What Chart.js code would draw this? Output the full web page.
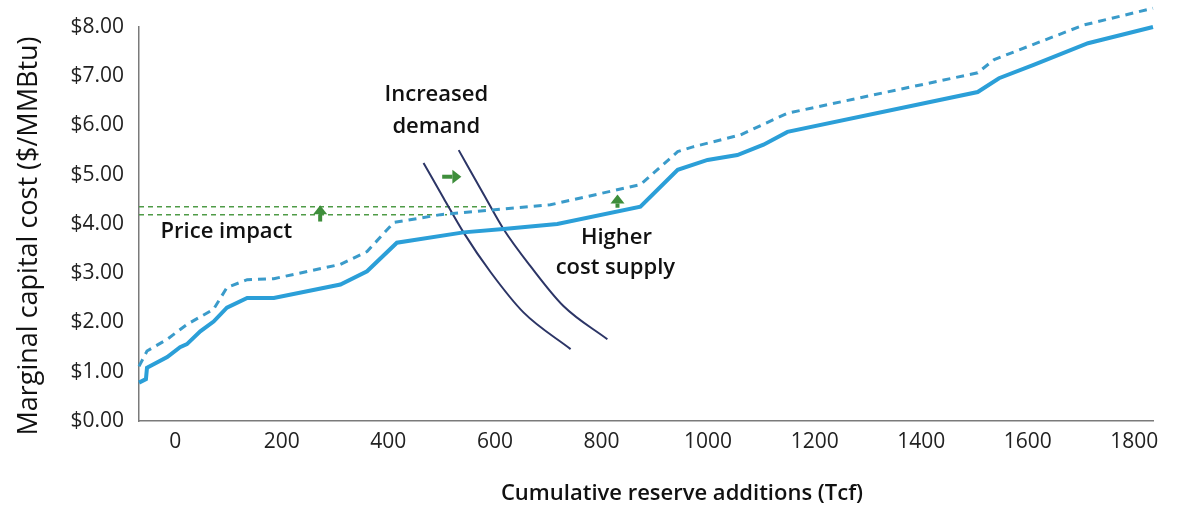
<!DOCTYPE html>
<html>
<head>
<meta charset="utf-8">
<title>Marginal capital cost</title>
<script src="https://cdn.jsdelivr.net/npm/chart.js@4.4.1/dist/chart.umd.min.js"></script>
<style>
    html, body { margin: 0; padding: 0; background: #fff; }
    #wrap { width: 1190px; height: 511px; position: relative; }
</style>
</head>
<body>
<div id="wrap"><canvas id="chart"></canvas></div>
<script>
// base supply curve (solid)
const supplyX = [-68, -55, -53, -15, 9, 22, 47, 72, 97, 135, 185, 310, 360, 416, 541, 616, 717, 873, 943, 999, 1055, 1104, 1149, 1506, 1546, 1611, 1713, 1835];
const supplyY = [0.78, 0.85, 1.08, 1.30, 1.50, 1.56, 1.82, 2.02, 2.30, 2.50, 2.50, 2.77, 3.04, 3.62, 3.83, 3.90, 4.00, 4.35, 5.10, 5.30, 5.40, 5.61, 5.87, 6.68, 6.96, 7.23, 7.67, 8.00];

// higher cost supply curve (dashed)
const costlyX = [-68, -53, -15, 22, 72, 97, 135, 185, 310, 360, 410, 498, 704, 873, 943, 973, 1061, 1149, 1506, 1537, 1705, 1835];
const costlyY = [1.11, 1.42, 1.66, 1.96, 2.27, 2.71, 2.87, 2.89, 3.18, 3.44, 4.03, 4.19, 4.39, 4.80, 5.47, 5.57, 5.81, 6.25, 7.07, 7.34, 8.04, 8.38];

// demand curves
const demandX = [466, 504, 541, 592, 654, 742];
const demandY = [5.24, 4.52, 3.83, 3.02, 2.20, 1.46];
const moreDemandX = [532, 579, 616, 667, 729, 811];
const moreDemandY = [5.50, 4.60, 3.90, 3.14, 2.33, 1.66];

// price levels (green dashed) and where they stop
const priceLevels = [4.19, 4.35];
const priceEnds = [510, 590];

// green arrows: from (x0, y0) to (x1, y1)
const arrowX0 = [272, 501, 830];
const arrowY0 = [4.05, 4.96, 4.33];
const arrowX1 = [272, 537, 830];
const arrowY1 = [4.38, 4.96, 4.60];

// text notes, anchored at data coordinates
const noteText = ['Price impact', 'Increased', 'demand', 'Higher', 'cost supply'];
const noteX = [96, 490, 490, 828, 826];
const noteY = [3.85, 6.62, 5.97, 3.72, 3.12];

const xTicks = [0, 200, 400, 600, 800, 1000, 1200, 1400, 1600, 1800];
const yTicks = [0, 1, 2, 3, 4, 5, 6, 7, 8];

const xTitle = 'Cumulative reserve additions (Tcf)';
const yTitle = 'Marginal capital cost ($/MMBtu)';

const FONT = '"Open Sans", "Noto Sans", sans-serif';

function toPoints(xs, ys) {
    return xs.map((x, i) => ({ x: x, y: ys[i] }));
}

const priceSets = priceLevels.map((level, i) => ({
    data: [{ x: -68, y: level }, { x: priceEnds[i], y: level }],
    borderColor: '#4f9b47',
    borderWidth: 1.5,
    borderDash: [5, 4],
    order: 5
}));

const notesPlugin = {
    id: 'notes',
    afterDatasetsDraw(chart) {
        const ctx = chart.ctx;
        const xs = chart.scales.x;
        const ys = chart.scales.y;
        ctx.save();

        // arrows
        ctx.strokeStyle = '#3e8e3b';
        ctx.fillStyle = '#3e8e3b';
        arrowX0.forEach((x0, i) => {
            const px0 = xs.getPixelForValue(x0);
            const py0 = ys.getPixelForValue(arrowY0[i]);
            const px1 = xs.getPixelForValue(arrowX1[i]);
            const py1 = ys.getPixelForValue(arrowY1[i]);
            const ang = Math.atan2(py1 - py0, px1 - px0);
            const head = 9;
            const hx = px1 - head * Math.cos(ang);
            const hy = py1 - head * Math.sin(ang);
            ctx.lineWidth = 4;
            ctx.beginPath();
            ctx.moveTo(px0, py0);
            ctx.lineTo(hx, hy);
            ctx.stroke();
            ctx.beginPath();
            ctx.moveTo(px1, py1);
            ctx.lineTo(hx + 7 * Math.sin(ang), hy - 7 * Math.cos(ang));
            ctx.lineTo(hx - 7 * Math.sin(ang), hy + 7 * Math.cos(ang));
            ctx.closePath();
            ctx.fill();
        });

        // notes
        ctx.fillStyle = '#111';
        ctx.font = '600 22px ' + FONT;
        ctx.textAlign = 'center';
        ctx.textBaseline = 'middle';
        noteText.forEach((t, i) => {
            ctx.fillText(t, xs.getPixelForValue(noteX[i]), ys.getPixelForValue(noteY[i]));
        });

        // axis titles
        ctx.font = '600 22px ' + FONT;
        ctx.fillText(xTitle, 682, 494);
        ctx.translate(29, 236);
        ctx.rotate(-Math.PI / 2);
        ctx.font = '27px ' + FONT;
        ctx.fillText(yTitle, 0, 0);
        ctx.restore();
    }
};

new Chart(document.getElementById('chart'), {
    type: 'scatter',
    data: {
        datasets: [
            {
                data: toPoints(supplyX, supplyY),
                borderColor: '#2b9fd8',
                borderWidth: 4,
                order: 1
            },
            {
                data: toPoints(costlyX, costlyY),
                borderColor: '#3a9bca',
                borderWidth: 3,
                borderDash: [8, 6],
                order: 2
            },
            {
                data: toPoints(demandX, demandY),
                borderColor: '#2c3566',
                borderWidth: 2,
                cubicInterpolationMode: 'monotone',
                order: 3
            },
            {
                data: toPoints(moreDemandX, moreDemandY),
                borderColor: '#2c3566',
                borderWidth: 2,
                cubicInterpolationMode: 'monotone',
                order: 3
            },
            ...priceSets
        ].map(ds => Object.assign({ showLine: true, pointRadius: 0, clip: false, fill: false }, ds))
    },
    options: {
        responsive: true,
        maintainAspectRatio: false,
        animation: false,
        layout: { padding: { top: 27, right: 37, left: 0, bottom: 0 } },
        plugins: {
            legend: { display: false },
            tooltip: { enabled: false }
        },
        scales: {
            x: {
                type: 'linear',
                min: -68,
                max: 1835,
                grid: { display: false },
                border: { color: '#7a7a7a', width: 1.5 },
                ticks: {
                    font: { family: FONT, size: 21 },
                    color: '#222',
                    padding: 0,
                    maxRotation: 0,
                    callback: v => String(v)
                },
                afterBuildTicks: scale => { scale.ticks = xTicks.map(v => ({ value: v })); },
                afterFit: scale => { scale.height = 90; }
            },
            y: {
                min: 0,
                max: 8,
                grid: { display: false },
                border: { color: '#7a7a7a', width: 1.5 },
                ticks: {
                    font: { family: FONT, size: 21 },
                    color: '#222',
                    padding: 7,
                    callback: v => '$' + Number(v).toFixed(2)
                },
                afterBuildTicks: scale => { scale.ticks = yTicks.map(v => ({ value: v })); },
                afterFit: scale => { scale.width = 139; }
            }
        }
    },
    plugins: [notesPlugin]
});
</script>
</body>
</html>
